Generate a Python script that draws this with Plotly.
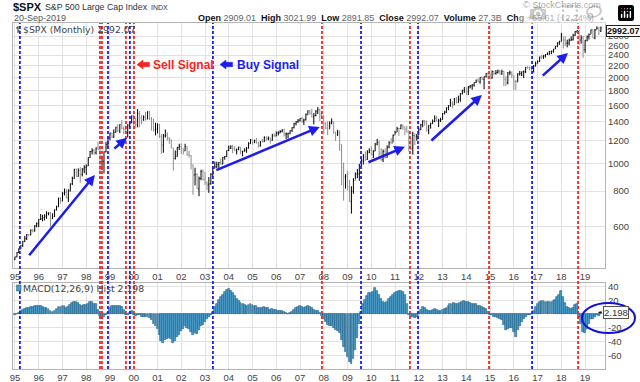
import math
import plotly.graph_objects as go

# ---------------- data ----------------
month_dates = [f"{y}-{m:02d}-01" for y in range(1995, 2020) for m in range(1, 13)][:297]

prev_close_dec1994 = 459.27
sep2019_open = 2909.01

closes = [
    470.42, 487.39, 500.71, 514.71, 533.40, 544.75, 562.06, 561.88, 584.41, 581.50, 605.37, 615.93,
    636.02, 640.43, 645.50, 654.17, 669.12, 670.63, 639.95, 651.99, 687.31, 705.27, 757.02, 740.74,
    786.16, 790.82, 757.12, 801.34, 848.28, 885.14, 954.31, 899.47, 947.28, 914.62, 955.40, 970.43,
    980.28, 1049.34, 1101.75, 1111.75, 1090.82, 1133.84, 1120.67, 957.28, 1017.01, 1098.67, 1163.63, 1229.23,
    1279.64, 1238.33, 1286.37, 1335.18, 1301.84, 1372.71, 1328.72, 1320.41, 1282.71, 1362.93, 1388.91, 1469.25,
    1394.46, 1366.42, 1498.58, 1452.43, 1420.60, 1454.60, 1430.83, 1517.68, 1436.51, 1429.40, 1314.95, 1320.28,
    1366.01, 1239.94, 1160.33, 1249.46, 1255.82, 1224.38, 1211.23, 1133.58, 1040.94, 1059.78, 1139.45, 1148.08,
    1130.20, 1106.73, 1147.39, 1076.92, 1067.14, 989.82, 911.62, 916.07, 815.28, 885.76, 936.31, 879.82,
    855.70, 841.15, 848.18, 916.92, 963.59, 974.50, 990.31, 1008.01, 995.97, 1050.71, 1058.20, 1111.92,
    1131.13, 1144.94, 1126.21, 1107.30, 1120.68, 1140.84, 1101.72, 1104.24, 1114.58, 1130.20, 1173.82, 1211.92,
    1181.27, 1203.60, 1180.59, 1156.85, 1191.50, 1191.33, 1234.18, 1220.33, 1228.81, 1207.01, 1249.48, 1248.29,
    1280.08, 1280.66, 1294.83, 1310.61, 1270.09, 1270.20, 1276.66, 1303.82, 1335.85, 1377.94, 1400.63, 1418.30,
    1438.24, 1406.82, 1420.86, 1482.37, 1530.62, 1503.35, 1455.27, 1473.99, 1526.75, 1549.38, 1481.14, 1468.36,
    1378.55, 1330.63, 1322.70, 1385.59, 1400.38, 1280.00, 1267.38, 1282.83, 1166.36, 968.75, 896.24, 903.25,
    825.88, 735.09, 797.87, 872.81, 919.14, 919.32, 987.48, 1020.62, 1057.08, 1036.19, 1095.63, 1115.10,
    1073.87, 1104.49, 1169.43, 1186.69, 1089.41, 1030.71, 1101.60, 1049.33, 1141.20, 1183.26, 1180.55, 1257.64,
    1286.12, 1327.22, 1325.83, 1363.61, 1345.20, 1320.64, 1292.28, 1218.89, 1131.42, 1253.30, 1246.96, 1257.60,
    1312.41, 1365.68, 1408.47, 1397.91, 1310.33, 1362.16, 1379.32, 1406.58, 1440.67, 1412.16, 1416.18, 1426.19,
    1498.11, 1514.68, 1569.19, 1597.57, 1630.74, 1606.28, 1685.73, 1632.97, 1681.55, 1756.54, 1805.81, 1848.36,
    1782.59, 1859.45, 1872.34, 1883.95, 1923.57, 1960.23, 1930.67, 2003.37, 1972.29, 2018.05, 2067.56, 2058.90,
    1994.99, 2104.50, 2067.89, 2085.51, 2107.39, 2063.11, 2103.84, 1972.18, 1920.03, 2079.36, 2080.41, 2043.94,
    1940.24, 1932.23, 2059.74, 2065.30, 2096.95, 2098.86, 2173.60, 2170.95, 2168.27, 2126.15, 2198.81, 2238.83,
    2278.87, 2363.64, 2362.72, 2384.20, 2411.80, 2423.41, 2470.30, 2471.65, 2519.36, 2575.26, 2647.58, 2673.61,
    2823.81, 2713.83, 2640.87, 2648.05, 2705.27, 2718.37, 2816.29, 2901.52, 2913.98, 2711.74, 2760.17, 2506.85,
    2704.10, 2784.49, 2834.40, 2945.83, 2752.06, 2941.76, 2980.38, 2926.46, 2992.07,
]

highs = [
    471, 489, 504, 517, 535, 557, 566, 565, 587, 589, 608, 622,
    638, 665, 661, 664, 680, 674, 676, 669, 690, 711, 758, 761,
    794, 817, 815, 812, 851, 899, 957, 961, 961, 971, 963, 986,
    993, 1050, 1106, 1131, 1123, 1139, 1191, 1121, 1066, 1103, 1192, 1245,
    1280, 1282, 1317, 1346, 1372, 1373, 1421, 1352, 1359, 1373, 1410, 1473,
    1478, 1445, 1553, 1528, 1479, 1475, 1517, 1525, 1531, 1454, 1433, 1389,
    1383, 1377, 1268, 1269, 1316, 1287, 1238, 1214, 1134, 1111, 1143, 1173,
    1176, 1131, 1173, 1147, 1107, 1070, 992, 966, 924, 900, 951, 954,
    935, 865, 896, 925, 965, 1016, 1015, 1012, 1040, 1054, 1063, 1112,
    1155, 1159, 1163, 1150, 1128, 1146, 1141, 1109, 1131, 1142, 1188, 1218,
    1212, 1212, 1229, 1192, 1199, 1219, 1246, 1245, 1244, 1233, 1271, 1276,
    1295, 1297, 1310, 1318, 1326, 1284, 1281, 1306, 1340, 1389, 1407, 1431,
    1441, 1462, 1438, 1499, 1534, 1541, 1556, 1503, 1539, 1576, 1554, 1523,
    1471, 1396, 1406, 1404, 1440, 1404, 1293, 1313, 1306, 1167, 1007, 919,
    943, 876, 832, 888, 930, 957, 997, 1040, 1080, 1102, 1113, 1130,
    1150, 1113, 1181, 1220, 1206, 1132, 1120, 1130, 1158, 1197, 1228, 1263,
    1303, 1345, 1333, 1371, 1370, 1347, 1357, 1307, 1230, 1293, 1278, 1269,
    1333, 1378, 1419, 1422, 1415, 1363, 1391, 1427, 1475, 1470, 1434, 1448,
    1503, 1530, 1570, 1598, 1687, 1654, 1698, 1710, 1730, 1768, 1814, 1849,
    1850, 1868, 1884, 1897, 1924, 1968, 1991, 2005, 2019, 2019, 2075, 2094,
    2065, 2120, 2115, 2126, 2135, 2130, 2133, 2113, 2021, 2094, 2117, 2104,
    2038, 1963, 2073, 2111, 2103, 2120, 2178, 2194, 2188, 2169, 2214, 2278,
    2301, 2371, 2401, 2399, 2419, 2454, 2484, 2491, 2520, 2582, 2658, 2695,
    2873, 2790, 2801, 2718, 2743, 2791, 2849, 2917, 2941, 2940, 2816, 2800,
    2708, 2813, 2861, 2949, 2955, 2965, 3028, 3014, 3021.99,
]

lows = [
    459, 469, 485, 501, 510, 530, 539, 556, 560, 573, 576, 597,
    598, 633, 627, 631, 640, 658, 601, 639, 650, 684, 703, 723,
    737, 773, 756, 733, 798, 840, 884, 899, 899, 855, 901, 925,
    912, 980, 1047, 1076, 1074, 1075, 1114, 940, 947, 923, 1094, 1137,
    1205, 1228, 1229, 1283, 1288, 1278, 1319, 1268, 1269, 1233, 1343, 1387,
    1350, 1326, 1339, 1339, 1373, 1413, 1413, 1431, 1420, 1305, 1294, 1255,
    1275, 1228, 1081, 1091, 1233, 1203, 1173, 1130, 945, 1032, 1057, 1114,
    1081, 1074, 1107, 1063, 1048, 952, 776, 838, 815, 768, 873, 872,
    840, 806, 789, 843, 895, 960, 963, 965, 990, 994, 1031, 1054,
    1105, 1125, 1087, 1107, 1076, 1113, 1078, 1060, 1101, 1090, 1128, 1173,
    1163, 1180, 1176, 1137, 1146, 1188, 1191, 1201, 1206, 1174, 1202, 1244,
    1245, 1254, 1277, 1285, 1245, 1219, 1224, 1265, 1290, 1327, 1361, 1386,
    1403, 1389, 1364, 1416, 1482, 1485, 1454, 1371, 1463, 1490, 1407, 1435,
    1270, 1317, 1257, 1324, 1373, 1272, 1200, 1248, 1107, 840, 741, 816,
    805, 735, 667, 783, 879, 888, 869, 979, 992, 1020, 1029, 1086,
    1071, 1045, 1105, 1158, 1040, 1023, 1011, 1040, 1049, 1131, 1173, 1186,
    1263, 1290, 1250, 1319, 1311, 1259, 1283, 1101, 1114, 1075, 1159, 1202,
    1259, 1311, 1340, 1358, 1292, 1267, 1325, 1378, 1396, 1403, 1343, 1398,
    1426, 1485, 1502, 1537, 1582, 1560, 1605, 1627, 1633, 1647, 1747, 1768,
    1738, 1737, 1834, 1815, 1860, 1915, 1931, 1905, 1964, 1821, 2001, 1973,
    1988, 1981, 2040, 2049, 2067, 2057, 2045, 1867, 1872, 1894, 2040, 1993,
    1812, 1810, 1932, 2034, 2025, 1992, 2075, 2147, 2120, 2115, 2084, 2188,
    2245, 2271, 2322, 2329, 2353, 2405, 2407, 2418, 2447, 2520, 2557, 2605,
    2682, 2533, 2585, 2554, 2595, 2692, 2699, 2803, 2864, 2604, 2631, 2347,
    2444, 2682, 2722, 2849, 2750, 2728, 2952, 2822, 2891.85,
]

# monthly open = prior month's close (last month from the header)
opens = [prev_close_dec1994] + closes[:-2] + [sep2019_open]

macd_hist = [
    -1, 0, 2, 4, 6, 7, 8, 9, 10, 10, 11, 12,
    12, 11, 10, 9, 8, 7, 4, 3, 5, 7, 10, 10,
    11, 11, 9, 10, 13, 16, 18, 17, 16, 13, 12, 13,
    13, 15, 17, 17, 15, 14, 6, -3, -7, -5, -2, 2,
    8, 11, 11, 12, 12, 11, 10, 6, -2, -2, 2, 5,
    -1, -3, -1, -2, -4, -4, -5, -4, -6, -9, -14, -18,
    -22, -30, -40, -42, -38, -36, -35, -37, -42, -40, -34, -30,
    -25, -22, -18, -20, -22, -26, -30, -28, -29, -24, -18, -16,
    -12, -8, -5, -2, 3, 10, 15, 20, 24, 28, 32, 35,
    36, 34, 30, 26, 22, 19, 16, 14, 13, 12, 13, 14,
    13, 12, 11, 9, 9, 9, 10, 9, 8, 6, 7, 6,
    6, 5, 5, 5, 3, 1, 0, 1, 3, 6, 8, 10,
    11, 10, 9, 10, 11, 10, 8, 6, 5, 4, 1, -3,
    -7, -12, -16, -18, -18, -21, -24, -25, -28, -38, -48, -55,
    -62, -70, -72, -65, -52, -35, -14, 3, 14, 20, 26, 30,
    30, 32, 38, 34, 28, 22, 18, 16, 18, 22, 24, 27,
    30, 32, 33, 33, 32, 28, 14, -2, -5, -5, -6, -4,
    2, 6, 10, 9, 6, 5, 5, 6, 7, 6, 5, 5,
    6, 7, 9, 11, 14, 14, 16, 14, 14, 16, 18, 19,
    17, 17, 16, 14, 14, 14, 12, 12, 10, 8, 7, 3,
    -2, -2, -4, -5, -6, -8, -9, -16, -24, -22, -20, -21,
    -26, -33, -24, -18, -12, -8, -4, -2, -1, 0.5, 4, 10,
    14, 18, 19, 19, 18, 18, 18, 17, 19, 21, 24, 27,
    33, 24, 16, 10, 8, 7, 9, 13, 14, -4, -15, -26,
    -28, -22, -15, -8, -7, -4, -2, -3, 2.198,
]

sell_signal_dates = ["1998-07-31", "1998-08-31", "1999-09-03", "2000-01-05", "2007-12-04",
                     "2011-08-18", "2014-12-16", "2018-09-15"]
buy_signal_dates = ["1995-03-18", "1998-12-01", "1999-11-03", "2003-05-03", "2009-07-27",
                    "2011-12-20", "2016-10-08"]

# trend arrows: (tail date, tail price, head date, head price)
trend_arrows = [
    ("1995-07-20", 471, "1998-05-15", 912),
    ("1999-02-15", 1117, "1999-09-20", 1230),
    ("2003-06-01", 943, "2007-11-01", 1344),
    ("2009-10-26", 1005, "2011-06-03", 1144),
    ("2012-06-20", 1191, "2014-08-28", 1740),
    ("2017-02-25", 2012, "2018-04-12", 2442),
]

price_ticks = [600, 800, 1000, 1200, 1400, 1600, 1800, 2000, 2200, 2400, 2600, 2800]
macd_ticks = [40, 20, 0, -20, -40, -60]

# ---------------- layout helpers ----------------
W, H = 640, 382
ML, MR, MT, MB = 13, 35, 23, 13
PW, PH = W - ML - MR, H - MT - MB


def px(x):
    return (x - ML) / PW


def py(y):
    return (H - MB - y) / PH


RED = "#f42525"
BLUE = "#1c1cf2"
GRID = "#e2e2e2"
FRAME = "#b4b4b4"
TICKC = "#444444"
FONT = "Liberation Sans"

fig = go.Figure()
fig.add_trace(go.Ohlc(
    x=month_dates, open=opens, high=highs, low=lows, close=closes,
    xaxis="x", yaxis="y",
    increasing=dict(line=dict(color="#000000", width=1)),
    decreasing=dict(line=dict(color="#8e8e8e", width=1)),
    tickwidth=0.35, showlegend=False, hoverinfo="skip",
))
fig.add_trace(go.Bar(
    x=month_dates, y=macd_hist, xaxis="x2", yaxis="y2",
    marker=dict(color="#4d9cc8", line=dict(color="#266a90", width=0.7)),
    showlegend=False, hoverinfo="skip",
))

xcommon = dict(
    type="date", range=["1994-12-02", "2019-11-03"], tickformat="%y", dtick="M12",
    tick0="1995-01-01", showgrid=True, gridcolor=GRID, gridwidth=1,
    showline=True, mirror=True, linecolor=FRAME, linewidth=1, ticks="",
    tickfont=dict(family=FONT, size=9.5, color=TICKC), showticklabels=True, fixedrange=True,
    automargin=False,
)

fig.update_layout(
    width=W, height=H, margin=dict(l=ML, r=MR, t=MT, b=MB, autoexpand=False),
    paper_bgcolor="white", plot_bgcolor="white", bargap=0,
    xaxis=dict(domain=[0, 1], anchor="y", rangeslider=dict(visible=False), **xcommon),
    xaxis2=dict(domain=[0, 1], anchor="y2", matches="x", **xcommon),
    yaxis=dict(
        domain=[py(268), 1], type="log", range=[math.log10(430), math.log10(3110)],
        side="right", tickvals=price_ticks,
        ticktext=[("\u2007" + str(v)) if v < 1000 else str(v) for v in price_ticks],
        showgrid=True, gridcolor=GRID, zeroline=False, showline=True, mirror=True,
        linecolor=FRAME, ticks="", tickfont=dict(family=FONT, size=9.5, color=TICKC),
        fixedrange=True, automargin=False,
    ),
    yaxis2=dict(
        domain=[0, py(283)], range=[-80, 45], side="right", tickvals=macd_ticks,
        ticktext=["" if v == 0 else str(v) for v in macd_ticks],
        showgrid=True, gridcolor=GRID, zeroline=False, showline=True, mirror=True,
        linecolor=FRAME, ticks="", tickfont=dict(family=FONT, size=9.5, color=TICKC),
        fixedrange=True, automargin=False,
    ),
)

shapes = []
for d in sell_signal_dates:
    shapes.append(dict(type="line", xref="x", yref="paper", x0=d, x1=d, y0=0, y1=1,
                       line=dict(color=RED, width=1.8, dash="3px,2px")))
for d in buy_signal_dates:
    shapes.append(dict(type="line", xref="x", yref="paper", x0=d, x1=d, y0=0, y1=1,
                       line=dict(color=BLUE, width=1.8, dash="3px,2px")))


def block_arrow(tip_x, cy, color):
    pts = [(tip_x, cy), (tip_x + 6, cy - 4.5), (tip_x + 6, cy - 2.2), (tip_x + 12.5, cy - 2.2),
           (tip_x + 12.5, cy + 2.2), (tip_x + 6, cy + 2.2), (tip_x + 6, cy + 4.5)]
    path = "M " + " L ".join(f"{px(a):.5f},{py(b):.5f}" for a, b in pts) + " Z"
    return dict(type="path", xref="paper", yref="paper", path=path,
                fillcolor=color, line=dict(color=color, width=0.5))


shapes.append(block_arrow(137, 64.5, RED))
shapes.append(block_arrow(220, 64.5, BLUE))

# ellipse around current MACD value
shapes.append(dict(type="circle", xref="paper", yref="paper",
                   x0=px(582), x1=px(635), y0=py(333), y1=py(303),
                   line=dict(color="#1010dd", width=2)))
# little legend icons
shapes.append(dict(type="line", xref="paper", yref="paper", x0=px(18), x1=px(18), y0=py(33), y1=py(26),
                   line=dict(color="#333333", width=1)))
shapes.append(dict(type="line", xref="paper", yref="paper", x0=px(16), x1=px(18), y0=py(28), y1=py(28),
                   line=dict(color="#333333", width=1)))
shapes.append(dict(type="line", xref="paper", yref="paper", x0=px(18), x1=px(20), y0=py(31), y1=py(31),
                   line=dict(color="#333333", width=1)))
shapes.append(dict(type="rect", xref="paper", yref="paper", x0=px(16.5), x1=px(21), y0=py(291), y1=py(285),
                   fillcolor="#4d9cc8", line=dict(color="#266a90", width=0.6)))
shapes.append(dict(type="line", xref="paper", yref="paper", x0=px(598.5), x1=px(601.5), y0=py(312.5),
                   y1=py(312.5), line=dict(color="#111111", width=1.2)))

annotations = []
for t_d, t_p, h_d, h_p in trend_arrows:
    annotations.append(dict(
        x=h_d, y=math.log10(h_p), ax=t_d, ay=math.log10(t_p),
        xref="x", yref="y", axref="x", ayref="y", text="", showarrow=True,
        arrowhead=2, arrowsize=0.85, arrowwidth=2.5, arrowcolor=BLUE, standoff=0,
    ))


def label(x, y, text, size=9, color="#333333", anchor="left", family=FONT, **kw):
    annotations.append(dict(x=px(x), y=py(y), xref="paper", yref="paper", text=text,
                            showarrow=False, xanchor=anchor, yanchor="middle",
                            font=dict(family=family, size=size, color=color), **kw))


label(11, 7, "<b>$SPX</b>", size=11, color="#111111")
label(43, 7.5, "S&amp;P 500 Large Cap Index", size=8.8, color="#333333")
label(149, 7.5, "INDX", size=7, color="#333333")
label(603, 5.5, "© StockCharts.com", size=9, color="#555555", anchor="right")
label(12, 18, "20-Sep-2019", size=9, color="#555555")
hdr = ("<b>Open</b> <span style='color:#666'>2909.01</span>  <b>High</b> <span style='color:#666'>3021.99</span>  "
       "<b>Low</b> <span style='color:#666'>2891.85</span>  <b>Close</b> <span style='color:#666'>2992.07</span>  "
       "<b>Volume</b> <span style='color:#666'>27.3B</span>  <b>Chg</b> <span style='color:#666'>+65.61 (+2.24%)</span>")
label(596, 18, hdr, size=9, color="#111111", anchor="right")
label(597, 17.5, "▲", size=6, color="#2a7a2a")

label(21, 29, "$SPX (Monthly) 2992.07", size=9.3, color="#444444", family="DejaVu Sans")
label(21, 288, "MACD(12,26,9) Hist 2.198", size=9.3, color="#444444", family="DejaVu Sans")

label(151, 65, "<b>Sell Signal</b>", size=12, color=RED)
label(234.5, 65, "<b>Buy Signal</b>", size=12, color=BLUE)

# current value boxes on the axes
label(605.5, 31, "<b>2992.07</b>", size=9, color="#111111", bgcolor="white",
      bordercolor="#222222", borderwidth=1, borderpad=0)
annotations.append(dict(x=px(603), y=2.198, xref="paper", yref="y2", text="2.198", showarrow=False,
                        xanchor="left", yanchor="middle", bgcolor="white", bordercolor="#555555",
                        borderwidth=1, borderpad=0,
                        font=dict(family=FONT, size=9.5, color="#333333")))

fig.update_layout(shapes=shapes, annotations=annotations)
fig.write_html("out.html", post_script="document.body.style.margin='0px';")
